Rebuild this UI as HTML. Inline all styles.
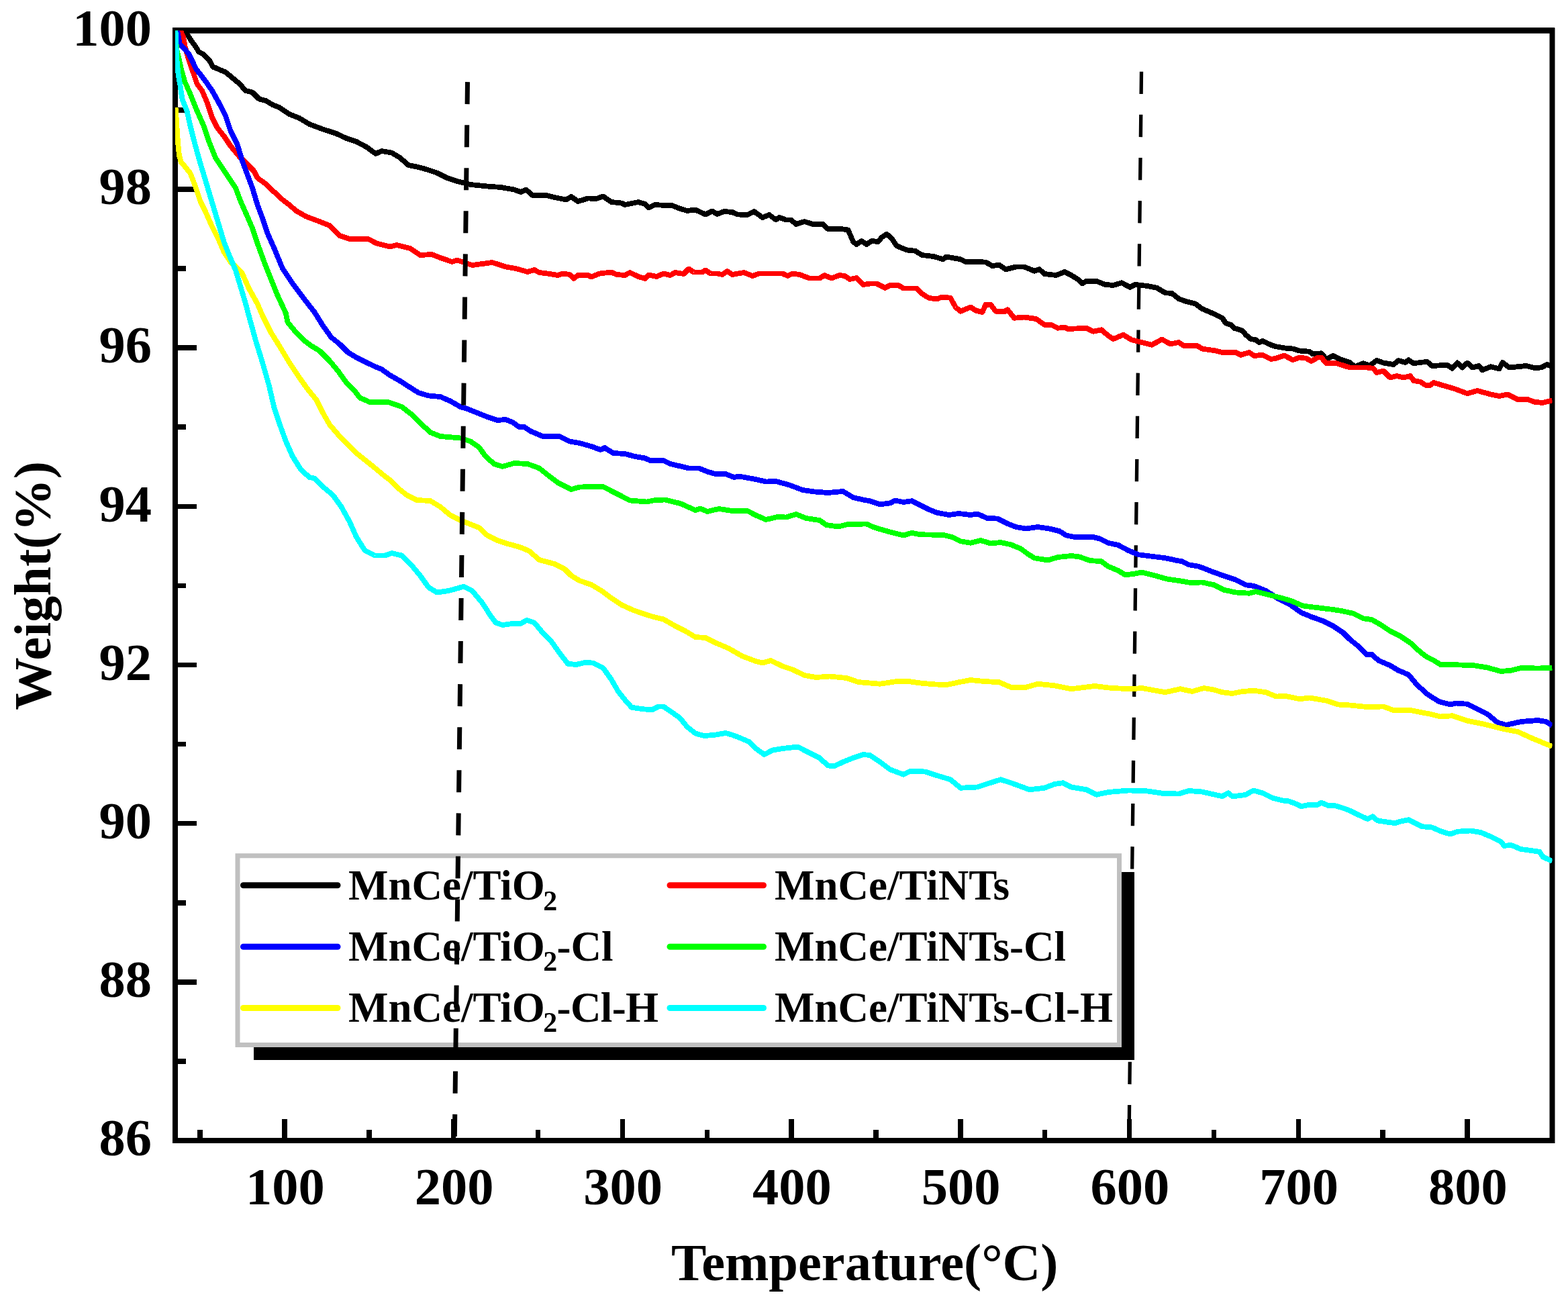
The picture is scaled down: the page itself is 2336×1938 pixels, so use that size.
<!DOCTYPE html>
<html><head><meta charset="utf-8"><title>TGA</title>
<style>html,body{margin:0;padding:0;background:#fff;}body{width:2336px;height:1938px;overflow:hidden;}svg{display:block;}</style>
</head><body>
<svg width="2336" height="1938" viewBox="0 0 2336 1938"><rect width="2336" height="1938" fill="#fff"/><g stroke="#000" stroke-width="7.5" shape-rendering="crispEdges"><line x1="261" y1="1581.0" x2="277" y2="1581.0"/><line x1="261" y1="1462.9" x2="293" y2="1462.9"/><line x1="261" y1="1344.8" x2="277" y2="1344.8"/><line x1="261" y1="1226.7" x2="293" y2="1226.7"/><line x1="261" y1="1108.6" x2="277" y2="1108.6"/><line x1="261" y1="990.5" x2="293" y2="990.5"/><line x1="261" y1="872.4" x2="277" y2="872.4"/><line x1="261" y1="754.3" x2="293" y2="754.3"/><line x1="261" y1="636.2" x2="277" y2="636.2"/><line x1="261" y1="518.1" x2="293" y2="518.1"/><line x1="261" y1="400.0" x2="277" y2="400.0"/><line x1="261" y1="281.9" x2="293" y2="281.9"/><line x1="261" y1="163.8" x2="277" y2="163.8"/><line x1="298.1" y1="1699" x2="298.1" y2="1683"/><line x1="424.0" y1="1699" x2="424.0" y2="1667"/><line x1="549.9" y1="1699" x2="549.9" y2="1683"/><line x1="675.7" y1="1699" x2="675.7" y2="1667"/><line x1="801.6" y1="1699" x2="801.6" y2="1683"/><line x1="927.4" y1="1699" x2="927.4" y2="1667"/><line x1="1053.3" y1="1699" x2="1053.3" y2="1683"/><line x1="1179.1" y1="1699" x2="1179.1" y2="1667"/><line x1="1305.0" y1="1699" x2="1305.0" y2="1683"/><line x1="1430.8" y1="1699" x2="1430.8" y2="1667"/><line x1="1556.7" y1="1699" x2="1556.7" y2="1683"/><line x1="1682.5" y1="1699" x2="1682.5" y2="1667"/><line x1="1808.4" y1="1699" x2="1808.4" y2="1683"/><line x1="1934.3" y1="1699" x2="1934.3" y2="1667"/><line x1="2060.1" y1="1699" x2="2060.1" y2="1683"/><line x1="2186.0" y1="1699" x2="2186.0" y2="1667"/></g><rect x="261" y="45.5" width="2051.5" height="1653.5" fill="none" stroke="#000" stroke-width="8"/><rect x="257" y="41" width="2059" height="8.6" fill="#000"/><line x1="1700.5" y1="106.7" x2="1682" y2="1695" stroke="#000" stroke-width="5.3" stroke-dasharray="33.3 30.84"/><defs><clipPath id="pc"><rect x="261" y="45.5" width="2051.5" height="1653.5"/></clipPath></defs><g clip-path="url(#pc)" shape-rendering="crispEdges"><polyline points="261,45.5 266,46 270,47.5 276,50 280,53 284.5,60 290,67.6 293,72 296,77 303,81 306,84 312,90 317.5,100 321,101 327.6,104 336,107.5 356,124 366,135 376,137.5 386,147.5 396,150 406,156 416,160 431,170 446,176 461,185 481,192.5 501,199 516,206 531,211 546,219 559.75,229 568.5,225 583.5,227.5 596,235 608.5,246 623.5,249 636,252.5 651,257.5 666,265 681,270 701,275 726,277.5 746,279 766,282.5 776,286 783.5,282.5 793.5,291 813.5,291 826,294 843.5,297.5 851,293 861,300 876,295.5 888.5,296 898.5,292.5 911,301 926,302.5 931,305 951,301 961,304 966,309.5 976,305 991,306 1001,306 1011,310 1023.5,314 1036,312.5 1051,319.5 1061,314.5 1068.5,319 1078.5,315 1091,316 1098.5,319.5 1113.5,320 1123.5,315 1136,324 1146,320 1156,327.5 1161,324 1171,327.5 1178.5,327.5 1186,334 1198.5,330 1211,334 1226,334 1233.5,341 1253.5,341 1263.5,342.5 1271,360 1276,364 1283.5,359 1291,364 1298.5,359 1308.5,360 1313.5,353.75 1321,348.75 1327.25,353.75 1336,366.25 1351,372.5 1363.5,373.75 1373.5,380 1391,382 1404.75,386.25 1409.75,382.5 1431,386.25 1438.5,390 1451,390 1468.5,390.5 1478.5,396.25 1488.5,394.5 1498.5,401.25 1513.5,397.5 1526,397.5 1541,403.75 1548.5,401.25 1556,408 1573.5,410 1586,405 1596,410 1606,416.25 1612.25,422.5 1618.5,418.75 1633.5,418.75 1646,423.75 1658.5,425 1671,421.25 1683.5,428 1691,423.75 1711,426.25 1723.5,428.75 1736,436.25 1746,437 1756,445 1766,448.75 1781,452.5 1791,460 1808.5,467.5 1821,473.75 1826,481.25 1833.5,483.75 1838.5,488.75 1851,492.5 1856,498.75 1863.5,505 1871,506.25 1876,510 1881,508 1893.5,513.75 1901,516.25 1916,518.75 1926,519.5 1936,522.5 1951,523.75 1956,527.5 1968.5,526.25 1976,535 1986,530 1996,535 2011,540 2018.5,546.25 2031,541.25 2041,544.5 2051,537 2061,540.5 2076,543 2083.5,537 2093.5,540 2098.5,536.25 2106,541.25 2126,538.75 2133.5,545 2156,543.75 2163.5,548.75 2171,540.5 2178.5,547.5 2186,540.5 2193.5,547.5 2203.5,545 2208.5,551.25 2221,546.25 2233.5,549.5 2238.5,540 2248.5,547.5 2261,546.25 2273.5,545 2286,548 2296,547.5 2304.75,543 2312.5,546.25" fill="none" stroke="#000" stroke-width="7.8" stroke-linejoin="round"/><polyline points="267,44 269,46 273,54.4 275.5,69 280,85 285,100 288.5,110 293.5,125 301,135 308.5,152.5 316,175 323.5,190 333.5,202.5 343.5,217.5 356,232.5 368.5,245 378.5,255 383.5,265 396,274 408.5,286 421,297.5 431,305 441,314 456,322.5 476,330 491,336 506,351 521,356 548.5,356 561,362.5 581,367.5 591,365 611,370 626,380 643.5,379 656,384 673.5,390 681,387.5 703.5,395 733.5,391 753.5,397.5 768.5,400 786,405 796,402 803.5,406 816,407.5 831,410 838.5,407.5 848.5,409 854.75,415 861,410 876,410 881,412.5 893.5,407.5 911,405.5 918.5,409 931,410 938.5,406 951,412 961,415 966,409.5 978.5,412 988.5,407.5 998.5,410 1006,406 1018.5,408 1026,400.5 1033.5,405.5 1046,405.5 1051,402.5 1058.5,407.5 1068.5,407.5 1076,409 1083.5,404 1091,409 1108.5,406 1121,411 1131,407.5 1166,407.5 1173.5,411 1181,407.5 1191,409 1206,414.5 1221,414.5 1228.5,410 1238.5,414.5 1251,410 1258.5,411 1266,416 1276,414 1286,424 1296,422.5 1306,422.5 1318.5,428.75 1326,425 1338.5,425 1346,429.5 1366,429.5 1373.5,437.5 1383.5,443.75 1396,445.5 1403.5,442.5 1416,443.75 1423.5,457.5 1431,463.75 1446,457.5 1453.5,462.5 1463.5,465 1468.5,453.75 1476,453.75 1483.5,463.75 1496,464.5 1501,461.25 1511,473.75 1526,472.5 1543.5,475 1556,483.75 1566,483.75 1576,488.75 1586,487.5 1591,490 1618.5,488.75 1628.5,493.75 1641,491.25 1651,500 1658.5,505 1673.5,498.75 1686,506.25 1701,510 1716,513.75 1731,505.5 1743.5,512.5 1756,510 1763.5,515 1783.5,515 1791,519.5 1811,522.5 1821,525 1841,525 1848.5,528.75 1861,525 1868.5,530 1881,528.75 1893.5,535 1901,533.75 1913.5,529.5 1926,536.25 1936,532.5 1946,533.75 1953.5,538 1963.5,532.5 1968.5,532.5 1976,541.25 1991,541.25 2011,547.5 2036,547.5 2046,548.75 2051,555 2061,552.5 2071,562.5 2081,560 2091,562.5 2101,560 2106,567 2116,568.75 2123.5,573.75 2131,573.75 2136,570 2148.5,573.75 2166,578.75 2186,586.25 2201,582 2221,587.5 2233.5,590 2246,587.5 2261,595 2276,595 2286,598.75 2298.5,600 2312.5,596.25" fill="none" stroke="#f00" stroke-width="7.8" stroke-linejoin="round"/><polyline points="264,45.5 266,55 267.5,66 274,72 281,80 286,90 292,102.5 304,118 316,135 328.5,157.5 336,172.5 343.5,195 353.5,215 361,240 368.5,260 376,280 383.5,305 391,325 398.5,347.5 408.5,370 421,400 436,422.5 451,442.5 468.5,465 481,485 493.5,502.5 506,512.5 518.5,525 531,532.5 546,540 558.5,546 568.5,550 581,559 596,567.5 606,574 623.5,585 638.5,589.5 656,591 671,597.5 686,606 696,609 711,615 726,621 741,626 753.5,625 763.5,629 773.5,636 781,636 791,642.5 808.5,650 833.5,650 848.5,657.5 863.5,660 881,665 894.75,670 901,667 913.5,675 931,676 946,680 961,682.5 968.5,686 988.5,686 998.5,691 1016,695 1026,697.5 1041,697.5 1053.5,702.5 1066,706 1081,706 1093.5,711 1101,709.5 1126,714 1141,717.5 1156,717 1176,722.5 1196,730 1213.5,732.5 1233.5,734 1256,732 1271,741 1286,744.5 1296,746.25 1311,751.25 1326,749.5 1333.5,745.5 1346,748 1358.5,746.25 1371,752.5 1383.5,758.75 1396,763.75 1413.5,767 1428.5,765 1446,767 1456,765.5 1471,772 1486,772.5 1501,780 1513.5,785 1528.5,787.5 1546,785 1563.5,787.5 1578.5,791.25 1588.5,797.5 1601,800 1628.5,800 1638.5,802.5 1651,808.75 1666,812 1681,820 1696,826.25 1716,828.75 1736,831.25 1753.5,835 1761,836.25 1771,841.25 1786,843.75 1808.5,852.5 1826,858.75 1841,863.75 1856,871.25 1868.5,873 1886,880 1903.5,891.25 1921,900 1938.5,912.5 1953.5,918.75 1971,925 1986,932.5 2001,942.5 2011,952.5 2023.5,962.5 2036,975 2043.5,974.5 2053.5,983.75 2071,991.25 2083.5,998.75 2098.5,1005 2111,1020 2126,1033.75 2143.5,1045 2161,1049.5 2168.5,1047.5 2186,1048.75 2198.5,1055 2216,1063.75 2231,1076.25 2243.5,1080 2266,1075 2291,1073 2303.5,1075 2312.5,1081" fill="none" stroke="#00f" stroke-width="7.8" stroke-linejoin="round"/><polyline points="261.5,45.5 262,60 263.5,75 266.5,87 269.5,101 275,121 283.5,140 293.5,165 303.5,187.5 311,210 321,235 331,250 341,265 351,280 358.5,300 368.5,322.5 376,340 383.5,362.5 393.5,390 403.5,415 413.5,440 426,467 428.5,480 441,495 453.5,507.5 463.5,515 476,522.5 491,537.5 503.5,552.5 516,570 528.5,582.5 536,592.5 551,599 578.5,599 598.5,606 613.5,617.5 626,630 641,644 656,650 686,652.5 701,657.5 713.5,666 723.5,680 736,691 748.5,695 766,690 786,691 803.5,697.5 816,707.5 831,719 851,729 863.5,725.5 886,725 898.5,725 916,734 938.5,745.5 963.5,747.5 976,745 991,744.5 1013.5,750 1036,760 1043.5,757.5 1053.5,762 1071,758 1091,761 1113.5,761 1126,767.5 1141,774 1158.5,770 1171,770.5 1186,766 1201,772 1221,775 1231,782 1248.5,784.5 1263.5,781 1291,780.5 1301,785 1308.5,787.5 1326,792.5 1346,797.5 1358.5,793.75 1371,796.25 1406,797 1418.5,800 1431,806.25 1446,808.75 1461,805 1476,809.5 1491,808 1506,811.25 1521,817.5 1531,825 1541,831.25 1561,834.5 1576,830 1596,828 1608.5,829.5 1623.5,835 1641,836.25 1651,843.75 1666,850 1676,856.25 1688.5,855 1701,852.5 1721,857.5 1738.5,862.5 1756,865 1773.5,868 1791,867.5 1808.5,871.25 1823.5,878.75 1841,882.5 1861,883.75 1871,881.25 1891,886.25 1911,891.25 1923.5,895 1941,902.5 1961,905 1986,908 1998.5,910 2016,913.75 2031,921.25 2043.5,923 2056,930 2071,940 2086,947.5 2101,957.5 2116,971.25 2126,978.75 2136,983.75 2146,990 2161,990 2196,991.25 2216,994.5 2236,1000 2251,998.75 2266,995 2291,995.5 2312.5,995" fill="none" stroke="#0f0" stroke-width="7.8" stroke-linejoin="round"/><polyline points="261.5,160 262,165 263.5,190 265,212 267,232 270,242 275,247.5 283.5,258 291,277.5 298.5,300 306,315 316,337.5 326,357.5 333.5,375 343.5,390 361,407.5 371,430 383.5,452.5 391,470 403.5,495 416,515 431,540 446,562.5 458.5,580 471,595 481,615 491,632.5 506,650 518.5,662.5 531,675 543.5,685 556,695 571,707.5 581,715 593.5,727.5 606,737.5 621,745 641,746 656,755 671,767.5 686,775 701,781 713.5,786 726,797.5 741,805 756,810 771,814 781,817.5 788.5,821 803.5,834 826,840 841,847.5 851,857.5 863.5,865 881,871 896,880 911,891 926,901 943.5,909 961,915 973.5,919 988.5,922.5 1006,932.5 1021,940 1036,949 1051,950 1066,957.5 1086,966 1106,977.5 1126,985 1136,987.5 1148.5,984 1166,992.5 1181,997.5 1198.5,1006 1216,1009 1236,1007.5 1261,1010 1278.5,1016 1296,1017.5 1311,1018.75 1336,1015 1353.5,1015 1371,1017.5 1393.5,1019.5 1411,1020 1428.5,1016.25 1446,1013 1466,1015 1488.5,1016.25 1506,1023.75 1528.5,1023.75 1546,1018.75 1571,1021.25 1596,1026.25 1631,1022 1656,1025 1686,1026.25 1701,1025 1736,1031.25 1758.5,1026.25 1776,1030 1793.5,1025 1808.5,1027.5 1821,1031.25 1836,1033 1851,1030 1868.5,1028.75 1886,1031.25 1901,1037.5 1916,1037 1936,1041.25 1951,1039.5 1976,1043.75 1993.5,1049.5 2011,1050.5 2036,1053 2061,1052.5 2076,1058 2101,1058 2131,1063.75 2146,1067.5 2163.5,1066.25 2186,1073.75 2211,1078.75 2241,1086.25 2261,1090 2286,1101.25 2312.5,1112" fill="none" stroke="#ff0" stroke-width="7.8" stroke-linejoin="round"/><polyline points="261.5,45.5 262.5,70 263.5,90 265.5,110 268.5,127.5 271.5,147.5 278.5,165 283.5,187.5 288.5,207.5 296,235 303.5,260 311,285 318.5,310 326,335 333.5,360 343.5,385 351,402.5 358.5,427.5 366,452.5 372,475 381,507.5 391,540 401,575 408.5,607.5 416,630 426,657.5 436,680 448.5,700 461,711 468.5,712.5 481,725 496,737.5 508.5,755 521,777.5 531,800 543.5,820 558.5,827.5 573.5,827.5 583.5,824 598.5,827.5 613.5,842.5 626,857.5 638.5,875 651,882.5 668.5,880 691,873.75 703.5,880 718.5,898 731,917.5 738.5,927.5 748.5,931 763.5,929 776,928.75 784.75,923.75 796,927.5 808.5,942.5 821,955 833.5,972.5 846,988.75 858.5,990 871,987 883.5,987.5 898.5,995 911,1012.5 921,1030 931,1042.5 941,1053.75 956,1056 971,1057.5 981,1052.5 988.5,1052.5 1001,1061 1013.5,1070 1023.5,1082.5 1036,1092.5 1048.5,1096 1063.5,1095 1081,1092 1088.5,1094 1098.5,1097.5 1116,1105 1126,1115 1138.5,1124 1151,1117.5 1166,1115 1188.5,1112.5 1201,1119 1221,1129 1233.5,1140.5 1243.5,1141 1256,1135 1271,1129 1286,1124 1296,1125 1311,1135 1326,1146.25 1346,1153.75 1356,1148.75 1378.5,1149.5 1391,1153.75 1416,1161.25 1431,1173.75 1456,1172.5 1471,1167.5 1491,1161.25 1508.5,1167 1533.5,1176.25 1556,1173.75 1571,1168 1583.5,1166.25 1596,1172.5 1618.5,1176.25 1633.5,1183.75 1651,1180 1681,1177.5 1706,1178 1733.5,1182 1756,1182.5 1771,1178 1791,1179.5 1811,1184 1821,1186.25 1829.75,1181.25 1836,1186.25 1848.5,1185 1856,1183.75 1867.25,1177.5 1881,1181.25 1896,1188.75 1911,1192.5 1918.5,1193 1931,1197.5 1938.5,1201.25 1951,1198.75 1963.5,1198.75 1968.5,1195.5 1978.5,1200 1988.5,1200 2001,1203.75 2011,1207.5 2023.5,1213.75 2037.25,1220 2044.75,1216.25 2052.25,1222.5 2066,1224.5 2078.5,1226.25 2086,1223.75 2098.5,1221.25 2111,1227.5 2118.5,1231.25 2133.5,1232.5 2146,1238 2153.5,1240.5 2161,1242.5 2171,1238.75 2191,1237.5 2206,1240 2221,1246.25 2236,1253.75 2241,1260 2251,1258.75 2266,1265 2276,1266.25 2293.5,1268.75 2298.5,1276.25 2312.5,1283" fill="none" stroke="#0ff" stroke-width="7.8" stroke-linejoin="round"/></g><g font-family="'Liberation Serif','Times New Roman',serif" font-weight="bold" font-size="78.5" fill="#000"><text x="226" y="1721.3" text-anchor="end">86</text><text x="226" y="1485.1" text-anchor="end">88</text><text x="226" y="1248.9" text-anchor="end">90</text><text x="226" y="1012.7" text-anchor="end">92</text><text x="226" y="776.5" text-anchor="end">94</text><text x="226" y="540.3" text-anchor="end">96</text><text x="226" y="304.1" text-anchor="end">98</text><text x="226" y="67.9" text-anchor="end">100</text><text x="424.8" y="1794" text-anchor="middle">100</text><text x="676.5" y="1794" text-anchor="middle">200</text><text x="928.2" y="1794" text-anchor="middle">300</text><text x="1179.9" y="1794" text-anchor="middle">400</text><text x="1431.6" y="1794" text-anchor="middle">500</text><text x="1683.3" y="1794" text-anchor="middle">600</text><text x="1935.1" y="1794" text-anchor="middle">700</text><text x="2186.8" y="1794" text-anchor="middle">800</text></g><text x="1288.2" y="1907" text-anchor="middle" font-family="'Liberation Serif','Times New Roman',serif" font-weight="bold" font-size="78.5">Temperature(°C)</text><text transform="translate(74.8,872.5) rotate(-90)" x="0" y="0" text-anchor="middle" font-family="'Liberation Serif','Times New Roman',serif" font-weight="bold" font-size="78.5">Weight(%)</text><rect x="378" y="1299" width="1312" height="280" fill="#000"/><rect x="354" y="1274.75" width="1313.5" height="281.75" fill="#fff" stroke="#c0c0c0" stroke-width="7"/><line x1="362.5" y1="1318.8" x2="503" y2="1318.8" stroke="#000" stroke-width="9" stroke-linecap="round"/><text x="519" y="1340.2" font-family="'Liberation Serif','Times New Roman',serif" font-weight="bold" font-size="63">MnCe/TiO<tspan font-size="42" dx="-2.5" dy="15.5">2</tspan></text><line x1="998" y1="1318.8" x2="1137.5" y2="1318.8" stroke="#f00" stroke-width="9" stroke-linecap="round"/><text x="1154" y="1340.2" font-family="'Liberation Serif','Times New Roman',serif" font-weight="bold" font-size="63">MnCe/TiNTs</text><line x1="362.5" y1="1410.2" x2="503" y2="1410.2" stroke="#00f" stroke-width="9" stroke-linecap="round"/><text x="519" y="1430.8" font-family="'Liberation Serif','Times New Roman',serif" font-weight="bold" font-size="63">MnCe/TiO<tspan font-size="42" dx="-2.5" dy="15.5">2</tspan><tspan dx="-0.8" dy="-15.5">-Cl</tspan></text><line x1="998" y1="1410.2" x2="1137.5" y2="1410.2" stroke="#0f0" stroke-width="9" stroke-linecap="round"/><text x="1154" y="1430.8" font-family="'Liberation Serif','Times New Roman',serif" font-weight="bold" font-size="63">MnCe/TiNTs-Cl</text><line x1="362.5" y1="1501.5" x2="503" y2="1501.5" stroke="#ff0" stroke-width="9" stroke-linecap="round"/><text x="519" y="1521.6" font-family="'Liberation Serif','Times New Roman',serif" font-weight="bold" font-size="63">MnCe/TiO<tspan font-size="42" dx="-2.5" dy="15.5">2</tspan><tspan dx="-0.8" dy="-15.5" letter-spacing="-0.6">-Cl-H</tspan></text><line x1="998" y1="1501.5" x2="1137.5" y2="1501.5" stroke="#0ff" stroke-width="9" stroke-linecap="round"/><text x="1154" y="1521.6" font-family="'Liberation Serif','Times New Roman',serif" font-weight="bold" font-size="63">MnCe/TiNTs-Cl-H</text><line x1="696.5" y1="122.1" x2="677.3" y2="1695" stroke="#000" stroke-width="7" stroke-dasharray="33 31.08"/></svg>
</body></html>
